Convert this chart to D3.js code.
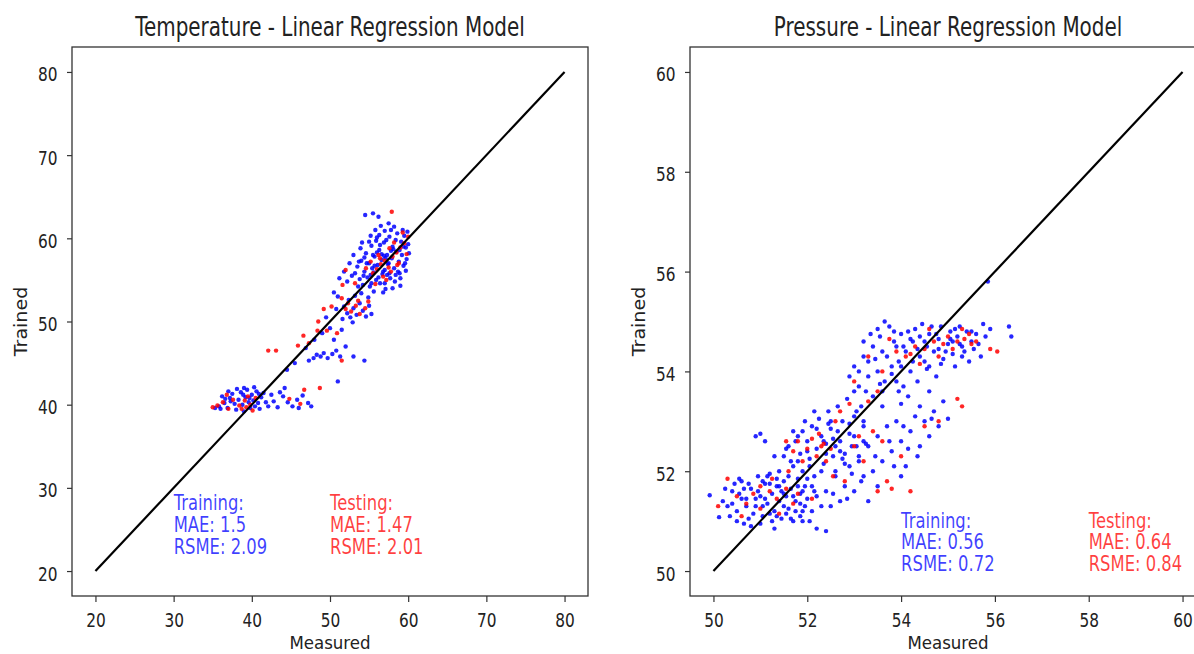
<!DOCTYPE html>
<html><head><meta charset="utf-8">
<script src="https://cdn.jsdelivr.net/npm/d3@7"></script>
<style>html,body{margin:0;padding:0;background:#fff;} svg{display:block;font-family:"DejaVu Sans",sans-serif;}</style>
</head><body><svg id="c" width="1194" height="654"></svg>
<script>
// ---------- DATA ----------
const tempTicks = [20,30,40,50,60,70,80];
const pressTicks = [50,52,54,56,58,60];
const tempDomain = [17,83];
const pressDomain = [49.5,60.5];
const tempIdeal = [[20,20],[80,80]];
const pressIdeal = [[50,50],[60,60]];
const tempTrainText = ["Training:","MAE: 1.5","RSME: 2.09"];
const tempTestText = ["Testing:","MAE: 1.47","RSME: 2.01"];
const pressTrainText = ["Training:","MAE: 0.56","RSME: 0.72"];
const pressTestText = ["Testing:","MAE: 0.64","RSME: 0.84"];
const tempTextAnchor = {train:[30,22.1], test:[50,22.1]};
const pressTextAnchor = {train:[54,50.0], test:[58,50.0]};

const tempTrain = [
[35.8,39.8],[36.5,40.2],[36.9,39.6],[37.2,40.8],[37.5,41.3],[37.8,40.1],[38.0,39.4],[38.3,40.6],[38.6,41.5],[38.8,40.0],
[39.0,39.2],[39.2,40.9],[39.4,41.8],[39.6,40.3],[39.8,39.6],[40.0,41.2],[40.2,40.5],[40.4,39.8],[40.6,41.6],[40.8,40.2],
[41.0,39.5],[41.2,40.9],[41.5,41.4],[41.8,40.3],[42.1,39.8],[36.2,41.0],[37.0,41.6],[38.1,41.9],[39.0,42.0],[40.3,42.1],
[35.3,39.6],[36.0,39.5],[42.5,41.2],[42.8,40.4],[43.3,39.7],
[37.3,40.4],[38.9,41.2],[40.9,41.3],[36.6,40.7],[39.7,40.8],
[44.0,41.0],[44.6,40.3],[45.2,39.8],[45.8,40.6],[46.5,41.1],[47.2,40.2],[47.6,39.8],[46.0,39.6],[43.6,41.5],[44.2,42.0],
[46.9,46.8],[47.3,45.3],[47.9,45.6],[48.3,46.0],[48.8,45.8],[49.2,46.2],[49.7,45.6],[50.3,46.1],[50.8,46.5],[51.3,45.8],
[51.0,42.8],[54.4,45.3],[48.0,47.8],[49.0,48.6],[50.0,49.2],[50.5,47.8],[52.0,47.0],[53.0,45.8],[49.5,50.5],[50.8,51.5],
[51.5,49.0],[44.5,44.2],[45.5,45.0],
[51.8,51.8],[52.2,51.0],[52.6,50.5],[53.0,51.6],[53.4,50.8],[53.8,52.2],[54.2,51.3],[54.6,50.6],[55.0,51.9],[52.4,52.6],
[53.2,53.1],[54.0,53.4],[51.6,50.3],[55.3,50.9],[52.9,49.9],
[53.2,55.8],[53.5,56.6],[53.8,55.1],[54.0,57.3],[54.2,54.4],[54.4,56.0],[54.6,58.2],[54.8,55.3],[55.0,57.0],[55.1,54.2],
[55.3,59.1],[55.4,56.4],[55.6,53.6],[55.7,57.8],[55.9,55.0],[56.0,60.1],[56.1,56.8],[56.3,58.6],[56.4,54.6],[56.6,57.4],
[56.7,55.7],[56.9,59.5],[57.0,56.2],[57.1,53.9],[57.3,58.0],[57.4,56.9],[57.6,60.2],[57.7,55.2],[57.9,57.6],[58.0,59.0],
[58.2,56.4],[58.3,54.8],[58.5,58.4],[58.6,60.6],[58.8,57.2],[58.9,55.8],[59.1,59.6],[59.2,58.0],[59.4,56.7],[59.5,60.3],
[59.7,58.9],[59.8,57.5],[60.0,59.3],[59.9,60.8],[56.5,61.5],[55.8,61.0],[54.5,62.8],[55.5,63.0],[56.2,62.6],[57.5,61.8],
[53.6,54.2],[52.8,55.5],[52.2,54.8],[51.8,56.0],[51.2,55.2],[52.5,57.0],[53.0,58.0],[54.1,59.5],[55.2,60.3],[54.9,52.9],
[56.8,53.5],[58.0,54.0],[59.0,55.2],[57.2,59.8],[57.8,61.0],[56.0,58.3],[55.6,55.9],[57.5,57.0],[58.4,59.8],[59.3,61.0],
[50.5,53.5],[51.0,53.0],[55.9,59.7],[54.3,55.5],[53.9,58.8],[56.4,59.2],[57.0,54.6],[58.7,56.0],[59.6,57.0],[60.1,58.2],
[59.0,54.3],[57.8,58.5],[56.9,57.9],[55.5,58.0],[54.7,57.0],
[55.2,55.6],[55.7,56.7],[56.2,55.3],[56.6,58.1],[57.1,57.6],[57.6,55.8],[58.1,58.7],[58.4,55.6],[58.9,58.6],[59.4,59.0],
[59.7,56.1],[56.3,60.4],[55.0,59.6],[54.4,57.7],[53.7,57.2],[57.0,60.9],[58.2,61.4],[56.8,56.0],[57.3,55.6],[55.3,54.6]
];
const tempTest = [
[35.0,39.7],[35.6,39.9],[36.3,40.3],[37.0,39.5],[37.6,40.6],[38.4,39.9],[39.1,40.5],[39.5,41.0],[39.8,40.0],[40.1,39.3],
[38.7,39.5],[36.8,41.2],[40.5,40.8],[39.3,39.7],
[44.8,40.7],[46.2,40.1],[46.7,41.8],[48.7,42.0],[42.1,46.5],[43.1,46.5],[45.9,47.1],[46.6,48.3],[47.3,47.4],[48.4,48.9],
[49.6,48.9],[51.5,45.3],[50.2,51.8],[49.2,51.5],[48.5,50.0],[50.9,48.6],
[52.0,51.5],[52.7,51.2],[53.3,51.9],[53.8,50.9],[54.5,51.6],[52.3,52.2],[53.6,52.5],[54.9,52.4],[51.5,52.8],
[55.5,55.8],[56.0,56.3],[56.5,56.9],[57.0,57.3],[57.5,56.5],[58.0,57.8],[58.5,58.3],[59.0,58.9],[59.5,59.4],[60.0,60.2],
[56.8,55.4],[57.8,56.0],[55.2,57.2],[54.6,56.4],[58.2,59.5],[59.3,60.7],[57.6,58.8],[56.2,58.0],[58.8,57.0],[57.2,55.0],
[55.8,54.5],[57.9,63.2],[53.2,54.6],[52.0,56.2],[51.6,54.4],[56.4,57.6],[58.6,56.8],[59.8,58.1]
];
const pressTrain = [
[49.92,51.52],[50.12,51.08],[50.3,51.3],[50.4,51.6],[50.5,51.2],[50.6,51.8],[50.7,51.45],[50.75,51.05],[50.8,51.65],[50.9,51.3],
[50.95,51.9],[51.0,51.5],[51.05,51.1],[51.1,51.75],[51.15,51.35],[51.2,51.95],[51.25,51.55],[51.3,51.2],[51.35,51.7],[51.4,51.4],
[51.45,51.05],[51.5,51.8],[51.55,51.5],[51.6,51.25],[51.65,51.65],[51.7,51.0],[51.75,51.4],[51.8,51.85],[51.85,51.55],[51.9,51.2],
[51.95,51.7],[52.0,51.45],[50.55,51.55],[50.85,51.15],[51.0,50.95],[51.3,50.85],[52.05,51.0],[52.2,50.85],[52.4,50.8],[50.65,50.95],
[50.2,51.4],[50.9,52.7],[51.0,52.75],[51.1,52.6],
[50.45,51.75],[50.7,51.3],[50.95,51.6],[51.1,51.45],[51.2,51.15],[51.35,51.85],[51.5,51.3],[51.6,51.9],[51.75,51.2],[51.9,51.6],
[50.35,51.1],[50.6,51.45],[51.05,51.8],[51.45,51.6],[51.7,51.5],[52.1,51.7],[50.8,50.9],[51.25,51.0],
[50.25,51.65],[50.5,51.0],[50.75,51.75],[50.9,51.45],[51.05,51.3],[51.2,51.75],[51.35,51.1],[51.5,51.55],[51.65,51.05],[51.8,51.7],
[51.95,51.3],[52.15,51.6],[50.4,51.35],[50.65,51.65],[51.15,51.9],[51.4,51.7],[51.55,51.15],[51.85,51.1],[52.0,51.85],[50.55,51.85],
[51.5,52.3],[51.6,52.5],[51.7,52.1],[51.8,52.7],[51.85,52.35],[51.9,52.0],[52.0,52.6],[52.05,52.25],[52.1,52.9],[52.15,51.9],
[52.2,52.45],[52.3,52.7],[52.35,52.15],[52.4,52.55],[52.5,52.85],[52.55,52.3],[52.6,52.0],[52.7,52.6],[52.75,53.0],[52.8,52.35],
[52.9,52.75],[53.0,53.1],[53.05,52.5],[53.1,52.2],[53.2,52.9],[52.25,53.05],[52.45,53.2],[51.95,53.0],[52.65,53.3],[52.85,53.45],
[53.0,53.6],[53.15,53.3],[51.3,52.3],[51.4,52.0],
[51.7,52.8],[52.0,52.4],[52.3,52.0],[52.55,52.65],[52.8,52.15],[52.95,52.5],[51.65,52.2],[52.45,52.95],
[51.55,52.45],[51.75,52.6],[51.9,52.8],[52.05,52.1],[52.2,52.85],[52.4,52.35],[52.6,52.5],[52.75,52.25],[52.9,52.95],[53.05,53.2],
[53.2,52.6],[52.35,52.6],[51.8,52.2],[52.65,52.8],[52.15,53.2],[52.5,53.0],
[52.9,53.9],[53.0,54.1],[53.1,53.7],[53.2,54.3],[53.3,53.9],[53.4,54.5],[53.5,54.0],[53.55,54.7],[53.6,53.6],[53.7,54.3],
[53.75,54.9],[53.8,53.95],[53.9,54.5],[53.95,54.2],[54.0,54.75],[54.05,53.7],[54.1,54.4],[54.2,54.0],[54.25,54.6],[54.3,54.85],
[54.35,53.8],[54.4,54.3],[54.5,54.6],[54.55,54.05],[54.6,54.75],[54.7,54.4],[54.75,53.9],[54.8,54.65],[54.85,54.9],[54.9,54.25],
[55.0,54.55],[55.05,54.8],[55.1,54.35],[55.2,54.7],[55.25,54.9],[55.3,54.5],[55.4,54.8],[55.5,54.6],[55.6,54.75],[55.75,54.95],
[55.9,54.85],[56.3,54.9],[56.35,54.7],[55.85,55.8],[53.2,54.6],[53.4,53.5],[54.15,53.5],[54.6,53.6],[55.15,54.1],[53.85,54.6],
[54.45,54.95],[53.65,55.0],[54.0,53.35],[55.45,54.2],[55.7,54.3],
[53.3,54.2],[53.6,54.4],[53.9,53.8],[54.2,54.65],[54.5,54.2],[54.8,54.45],[55.1,54.6],[55.35,54.4],[54.65,54.9],[53.5,54.85],
[54.0,54.1],[54.35,54.45],[55.55,54.45],[53.8,54.1],
[53.1,54.0],[53.25,53.6],[53.45,54.25],[53.65,53.8],[53.85,54.8],[54.05,54.5],[54.25,54.2],[54.4,54.7],[54.6,54.1],[54.75,54.75],
[54.95,54.4],[55.15,54.85],[55.3,54.3],[55.5,54.8],[55.65,54.55],[55.8,54.7],[53.35,54.75],[53.55,53.75],[54.15,54.8],[54.85,54.15],
[55.05,54.65],[55.25,54.55],[53.95,53.6],[54.55,54.5],
[52.4,51.6],[52.5,51.3],[52.6,51.9],[52.7,51.4],[52.8,51.7],[52.9,52.1],[53.0,51.6],[53.1,52.3],[53.2,51.9],[53.3,52.5],
[53.4,52.0],[53.5,52.7],[53.6,52.2],[53.7,52.9],[53.8,52.4],[53.9,53.0],[54.0,52.6],[54.1,52.1],[54.2,52.8],[54.3,53.1],
[54.4,52.5],[54.5,53.0],[54.6,52.7],[54.7,53.2],[54.8,52.9],[54.9,53.4],[53.3,51.4],[53.5,51.7],[52.7,52.4],[53.0,52.7],
[53.6,53.3],[53.2,53.0],[54.0,51.9],[52.3,51.3],[51.9,51.0],[54.4,53.3],[55.0,53.05],[52.2,51.5],[52.1,51.2],[51.85,51.35],
[52.55,51.55],[52.85,51.45],[53.15,51.8],[53.45,52.3],[53.75,52.6],[54.05,52.9],[54.35,52.3],[54.65,53.05],[54.15,52.45],[53.85,52.1],
[53.25,52.55],[52.95,51.95]
];
const pressTest = [
[50.1,51.3],[50.5,51.5],[50.7,51.35],[50.85,51.55],[51.0,51.25],[51.2,51.6],[51.35,51.45],[51.55,51.65],[51.7,51.35],[51.8,51.55],
[51.25,51.85],[50.6,51.1],[51.4,51.15],[52.1,51.45],[50.3,51.85],[51.0,51.7],
[51.55,52.6],[51.7,52.4],[51.8,52.6],[51.9,52.2],[52.0,52.45],[52.1,52.65],[52.2,52.3],[52.3,52.5],[52.4,52.2],[52.5,52.45],
[51.6,52.0],[52.25,52.75],[52.6,53.0],[52.7,53.2],[52.9,53.35],[53.1,52.7],[52.55,51.9],[53.3,53.4],[52.35,52.55],
[53.0,53.8],[53.3,54.3],[53.6,54.0],[53.9,54.4],[54.1,54.3],[54.3,54.5],[54.5,54.45],[54.7,54.6],[54.9,54.55],[55.0,54.7],
[55.1,54.45],[55.2,54.6],[55.35,54.65],[55.5,54.55],[54.6,54.85],[54.8,54.3],[55.3,54.85],[53.5,53.6],[53.75,54.65],[54.4,54.15],
[55.9,54.45],[56.05,54.4],[55.6,54.6],[54.2,54.35],[55.45,54.75],
[53.0,52.5],[53.4,52.8],[53.7,51.8],[53.6,52.6],[54.0,52.3],[54.2,51.6],[54.5,52.9],[54.8,53.0],[55.3,53.3],[55.2,53.45],
[53.5,51.6],[53.8,51.65],[52.8,51.8],[53.2,52.2]
];

// ---------- DRAW ----------
const svg = d3.select("#c");
svg.append("rect").attr("width",1194).attr("height",654).attr("fill","#fff");
const TOP = 47, BOTTOM = 596, W = 516;

function txt(g, x, y, s, o) {
  const t = g.append("text")
    .attr("transform", `translate(${x},${y})` + (o.rot ? ` rotate(${o.rot})` : "") + ` scale(${o.sx},1)`)
    .attr("font-size", o.size).attr("text-anchor", o.anchor || "start")
    .attr("fill", o.fill || "#222").text(s);
  if (o.op != null) t.attr("fill-opacity", o.op);
  return t;
}

function panel(o) {
  const x = d3.scaleLinear().domain(o.domain).range([o.left, o.left + W]);
  const y = d3.scaleLinear().domain(o.domain).range([BOTTOM, TOP]);
  const g = svg.append("g");

  const xa = g.append("g").attr("transform", `translate(0,${BOTTOM})`)
    .call(d3.axisBottom(x).tickValues(o.ticks).tickSize(6).tickFormat(d3.format("d")));
  xa.select(".domain").remove();
  xa.selectAll(".tick line").attr("stroke", "#333").attr("stroke-width", 1.2);
  xa.selectAll(".tick text").attr("y", 0).attr("dy", null)
    .attr("transform", "translate(0,30.5) scale(0.8,1)")
    .attr("font-size", 19.2).attr("fill", "#222").attr("font-family", "DejaVu Sans");

  const ya = g.append("g").attr("transform", `translate(${o.left},0)`)
    .call(d3.axisLeft(y).tickValues(o.ticks).tickSize(5).tickFormat(d3.format("d")));
  ya.select(".domain").remove();
  ya.selectAll(".tick line").attr("stroke", "#333").attr("stroke-width", 1.2);
  ya.selectAll(".tick text").attr("x", 0).attr("dy", "0.47em")
    .attr("transform", "translate(-14.5,0) scale(0.8,1)")
    .attr("font-size", 19.2).attr("fill", "#222").attr("font-family", "DejaVu Sans");

  g.append("g").selectAll("circle").data(o.train).join("circle")
    .attr("cx", d => x(d[0])).attr("cy", d => y(d[1])).attr("r", 2.2)
    .attr("fill", "#0000ff").attr("fill-opacity", 0.85);
  g.append("g").selectAll("circle").data(o.test).join("circle")
    .attr("cx", d => x(d[0])).attr("cy", d => y(d[1])).attr("r", 2.2)
    .attr("fill", "#ff0000").attr("fill-opacity", 0.85);

  g.append("path").datum(o.ideal)
    .attr("d", d3.line().x(d => x(d[0])).y(d => y(d[1])))
    .attr("stroke", "#000").attr("stroke-width", 2.2).attr("fill", "none");

  g.append("rect").attr("x", o.left).attr("y", TOP).attr("width", W).attr("height", BOTTOM - TOP)
    .attr("fill", "none").attr("stroke", "#333").attr("stroke-width", 1.3);

  const lh = 21.7;
  [[o.trainText, o.anchor.train, "#0000ff"], [o.testText, o.anchor.test, "#ff0000"]].forEach(([lines, a, c]) => {
    const bx = x(a[0]), by = y(a[1]);
    lines.forEach((s, i) => {
      txt(g, bx, by - (lines.length - 1 - i) * lh, s, {size: 20.5, sx: 0.8, fill: c, op: 0.75});
    });
  });

  txt(g, o.left + W / 2, 35.7, o.title, {size: 26, sx: 0.767, anchor: "middle"});
  txt(g, o.left + W / 2, 648.5, "Measured", {size: 18.5, sx: 0.9, anchor: "middle"});
  txt(g, o.left - 45, (TOP + BOTTOM) / 2, "Trained", {size: 17, sx: 1.12, anchor: "middle", rot: -90});
}

panel({left: 72, domain: tempDomain, ticks: tempTicks, train: tempTrain, test: tempTest, ideal: tempIdeal,
  title: "Temperature - Linear Regression Model", trainText: tempTrainText, testText: tempTestText, anchor: tempTextAnchor});
panel({left: 690, domain: pressDomain, ticks: pressTicks, train: pressTrain, test: pressTest, ideal: pressIdeal,
  title: "Pressure - Linear Regression Model", trainText: pressTrainText, testText: pressTestText, anchor: pressTextAnchor});
</script></body></html>
